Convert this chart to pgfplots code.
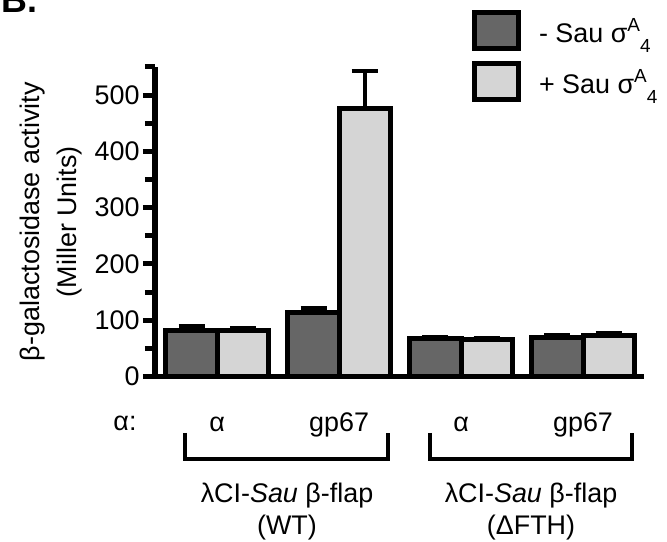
\documentclass[border=0pt]{standalone}
\usepackage{fontspec}
\setmainfont{Liberation Sans}
\usepackage{pgfplots}
\pgfplotsset{compat=1.18}
\definecolor{darkbar}{RGB}{102,102,102}
\definecolor{lightbar}{RGB}{213,213,213}
\newcommand{\sig}{σ\raisebox{11bp}{\fontsize{19}{19}\selectfont A}\raisebox{-10bp}{\fontsize{19}{19}\selectfont 4}}
\pgfplotsset{boxlegend/.style={legend image code/.code={\draw[##1,line width=5bp] (0bp,-18bp) rectangle (44bp,18bp);}}}
\begin{document}
\begin{tikzpicture}
\useasboundingbox (0,0) rectangle (667bp,542bp);
\begin{axis}[
  at={(155bp,165.5bp)}, anchor=south west,
  scale only axis, width=489bp, height=309.5bp,
  xmin=0.49, xmax=4.5, ymin=0, ymax=550,
  axis x line=bottom, axis y line=left,
  axis line style={-, line width=5bp},
  clip=false,
  ytick={0,100,...,500}, minor ytick={50,150,...,550},
  tick align=outside, major tick length=12bp, minor tick length=10bp,
  every tick/.style={line width=5bp, black},
  xtick={1,2,3,4}, xticklabels={α,gp67,α,gp67},
  x tick style={draw=none},
  xticklabel style={anchor=center, yshift=-36bp},
  ticklabel style={font=\fontsize{27}{30}\selectfont},
  /pgf/number format/assume math mode=true,
  ylabel={β-galactosidase activity\\(Miller Units)},
  ylabel style={align=center, font=\fontsize{27}{37}\selectfont, at={(axis description cs:-0.213,0.5)}, anchor=center},
  ybar, bar width=0.42,
  legend style={draw=none, fill=none, at={(axis description cs:0.648,1.184)}, anchor=north west,
    font=\fontsize{27}{30}\selectfont, row sep=10bp, inner sep=0pt,
    /tikz/every odd column/.append style={column sep=16bp}},
  legend cell align=left,
]
\addplot[boxlegend, fill=darkbar, draw=black, line width=5bp, bar shift=-0.21,
  error bars/.cd, y dir=plus, y explicit,
  error bar style={line width=4bp, black},
  error mark options={rotate=90, line width=4bp, mark size=13bp, black}]
  coordinates {(1,82) +- (0,7) (2,114) +- (0,8) (3,68) +- (0,3) (4,69) +- (0,4)};
\addlegendentry{- Sau \sig}
\addplot[boxlegend, fill=lightbar, draw=black, line width=5bp, bar shift=0.21,
  error bars/.cd, y dir=plus, y explicit,
  error bar style={line width=4bp, black},
  error mark options={rotate=90, line width=4bp, mark size=13bp, black}]
  coordinates {(1,81) +- (0,5) (2,476) +- (0,67) (3,66) +- (0,2) (4,72) +- (0,6)};
\addlegendentry{+ Sau \sig}
\end{axis}
\node[font=\fontsize{36}{40}\selectfont\bfseries, anchor=base west] at (-2bp,529bp) {B.};
\node[font=\fontsize{27}{30}\selectfont] at (125bp,119bp) {α:};
\draw[line width=4bp] (185bp,109bp) -- (185bp,83bp) -- (388bp,83bp) -- (388bp,109bp);
\draw[line width=4bp] (430bp,109bp) -- (430bp,83bp) -- (632bp,83bp) -- (632bp,109bp);
\node[font=\fontsize{27}{32}\selectfont, align=center, anchor=base] at (287bp,7.3bp) {λCI-\textit{Sau} β-flap\\(WT)};
\node[font=\fontsize{27}{32}\selectfont, align=center, anchor=base] at (531bp,7.3bp) {λCI-\textit{Sau} β-flap\\(ΔFTH)};
\end{tikzpicture}
\end{document}
